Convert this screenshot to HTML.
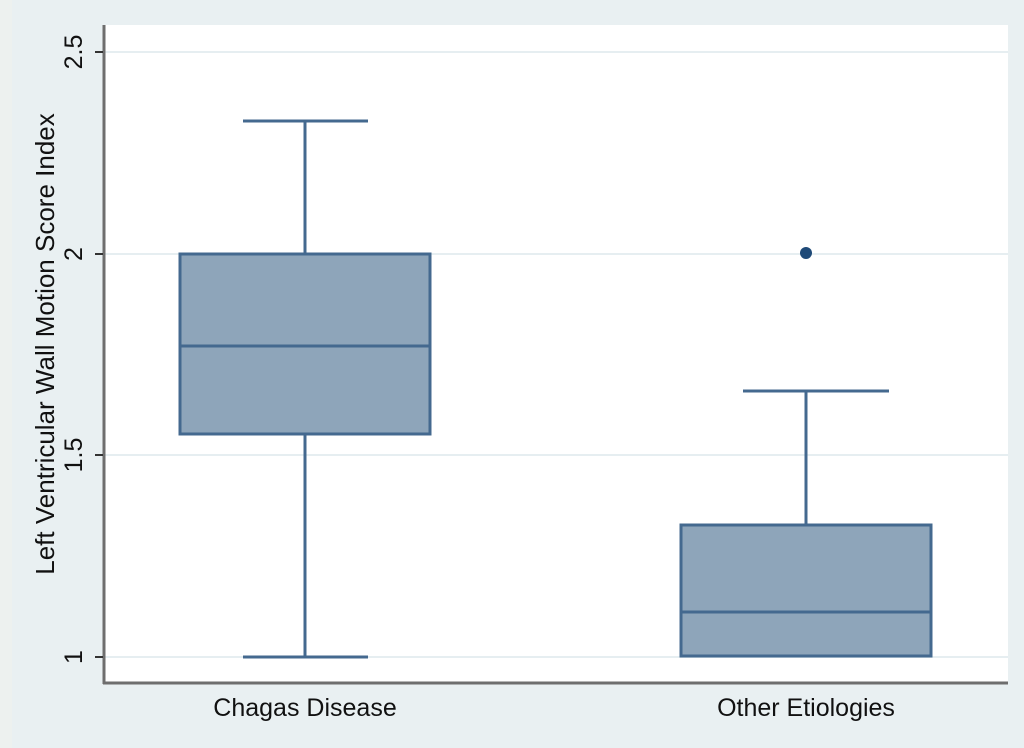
<!DOCTYPE html>
<html><head><style>
html,body{margin:0;padding:0;background:#e9f0f2;}
svg{display:block;}
text{font-family:"Liberation Sans",sans-serif;fill:#111;}
</style></head><body>
<svg width="1024" height="748" viewBox="0 0 1024 748">
<rect x="0" y="0" width="1024" height="748" fill="#e9f0f2"/>
<rect x="0" y="0" width="12" height="748" fill="#edf1ef"/>
<rect x="104" y="25" width="904" height="658" fill="#ffffff"/>
<g stroke="#e6eef1" stroke-width="2">
<line x1="105" y1="52" x2="1008" y2="52"/>
<line x1="105" y1="254" x2="1008" y2="254"/>
<line x1="105" y1="455" x2="1008" y2="455"/>
<line x1="105" y1="657" x2="1008" y2="657"/>
</g>
<g stroke="#6e6e6e" stroke-width="3">
<line x1="104" y1="25" x2="104" y2="684"/>
<line x1="103" y1="683" x2="1008" y2="683"/>
</g>
<g stroke="#333" stroke-width="2">
<line x1="95" y1="52" x2="103" y2="52"/>
<line x1="95" y1="254" x2="103" y2="254"/>
<line x1="95" y1="455" x2="103" y2="455"/>
<line x1="95" y1="657" x2="103" y2="657"/>
</g>
<g font-size="25" text-anchor="middle">
<text transform="translate(82,52) rotate(-90)">2.5</text>
<text transform="translate(82,254) rotate(-90)">2</text>
<text transform="translate(82,455) rotate(-90)">1.5</text>
<text transform="translate(82,657) rotate(-90)">1</text>
<text transform="translate(54,344) rotate(-90)" font-size="26">Left Ventricular Wall Motion Score Index</text>
<text x="305" y="716">Chagas Disease</text>
<text x="806" y="716">Other Etiologies</text>
</g>
<g stroke="#44698f" stroke-width="3" fill="none">
<line x1="305" y1="121" x2="305" y2="254"/>
<line x1="305" y1="434" x2="305" y2="657"/>
<line x1="243" y1="121" x2="368" y2="121"/>
<line x1="243" y1="657" x2="368" y2="657"/>
<rect x="180" y="254" width="250" height="180" fill="#8ea5ba"/>
<line x1="180" y1="346" x2="430" y2="346"/>
<line x1="806" y1="391" x2="806" y2="525"/>
<line x1="743" y1="391" x2="889" y2="391"/>
<rect x="681" y="525" width="250" height="131" fill="#8ea5ba"/>
<line x1="681" y1="612" x2="931" y2="612"/>
</g>
<circle cx="806" cy="253" r="6" fill="#1f4a78"/>
</svg>
</body></html>
